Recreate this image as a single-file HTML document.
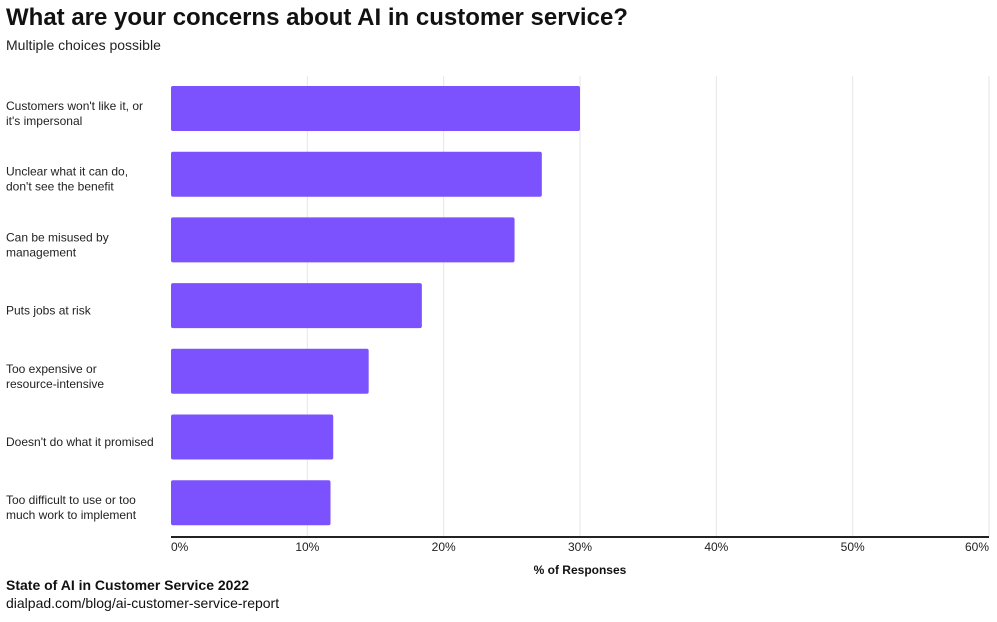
<!DOCTYPE html>
<html><head><meta charset="utf-8"><style>
body{margin:0;background:#fff;font-family:"Liberation Sans",sans-serif;}
svg text{font-family:"Liberation Sans",sans-serif;}
</style></head><body>
<svg width="997" height="617" xmlns="http://www.w3.org/2000/svg">
<text x="6" y="25" font-size="24" font-weight="bold" fill="#111">What are your concerns about AI in customer service?</text>
<text x="6" y="50" font-size="14" fill="#222">Multiple choices possible</text>
<g id="grid"></g>
<g id="bars"></g>
<g id="labels"></g>
<g id="ticks"></g>
<line x1="171" y1="537" x2="989" y2="537" stroke="#222" stroke-width="2"/>
<text x="580" y="574" font-size="12" font-weight="bold" text-anchor="middle" fill="#111">% of Responses</text>
<text x="6" y="590" font-size="14" font-weight="bold" fill="#111">State of AI in Customer Service 2022</text>
<text x="6" y="608" font-size="14" fill="#111">dialpad.com/blog/ai-customer-service-report</text>
</svg>
<script>
const categories = [
  ["Customers won't like it, or","it's impersonal"],
  ["Unclear what it can do,","don't see the benefit"],
  ["Can be misused by","management"],
  ["Puts jobs at risk"],
  ["Too expensive or","resource-intensive"],
  ["Doesn't do what it promised"],
  ["Too difficult to use or too","much work to implement"]
];
const values = [30.0, 27.2, 25.2, 18.4, 14.5, 11.9, 11.7];
const tickValues = [0, 10, 20, 30, 40, 50, 60];
const tickLabels = ["0%","10%","20%","30%","40%","50%","60%"];

const NS = "http://www.w3.org/2000/svg";
const x0 = 171, x1 = 989, xMax = 60;
const xs = v => x0 + (v / xMax) * (x1 - x0);
const top0 = 86, step = 65.7, barH = 45;
const ys = i => top0 + i * step;

function mk(tag, attrs, parent) {
  const e = document.createElementNS(NS, tag);
  for (const k in attrs) e.setAttribute(k, attrs[k]);
  parent.appendChild(e);
  return e;
}
const grid = document.getElementById('grid');
const bars = document.getElementById('bars');
const labels = document.getElementById('labels');
const ticks = document.getElementById('ticks');

tickValues.forEach((t, i) => {
  const x = xs(t);
  if (i > 0) {
    const g = mk('line', {x1: x, y1: 76, x2: x, y2: 537, stroke: '#e6e6e6', 'stroke-width': 1}, grid);
    
    
  }
  const anchor = i === 0 ? 'start' : (i === tickValues.length - 1 ? 'end' : 'middle');
  const tx = mk('text', {x: x, y: 551, 'font-size': 12, fill: '#222', 'text-anchor': anchor}, ticks);
  tx.textContent = tickLabels[i];
  
  
});

values.forEach((v, i) => {
  const y = ys(i);
  const r = mk('rect', {x: x0, y: y, width: xs(v) - x0, height: barH, rx: 2, fill: '#7b52fd'}, bars);
  
  
  const lines = categories[i];
  const cy = y + barH / 2;
  const start = cy - (lines.length - 1) * 7.5 + 9;
  const t = mk('text', {x: 6, y: start, 'font-size': 12, fill: '#222'}, labels);
  
  
  lines.forEach((ln, j) => {
    const s = mk('tspan', {x: 6, y: start + j * 15}, t);
    s.textContent = ln;
  });
});
</script>
</body></html>
